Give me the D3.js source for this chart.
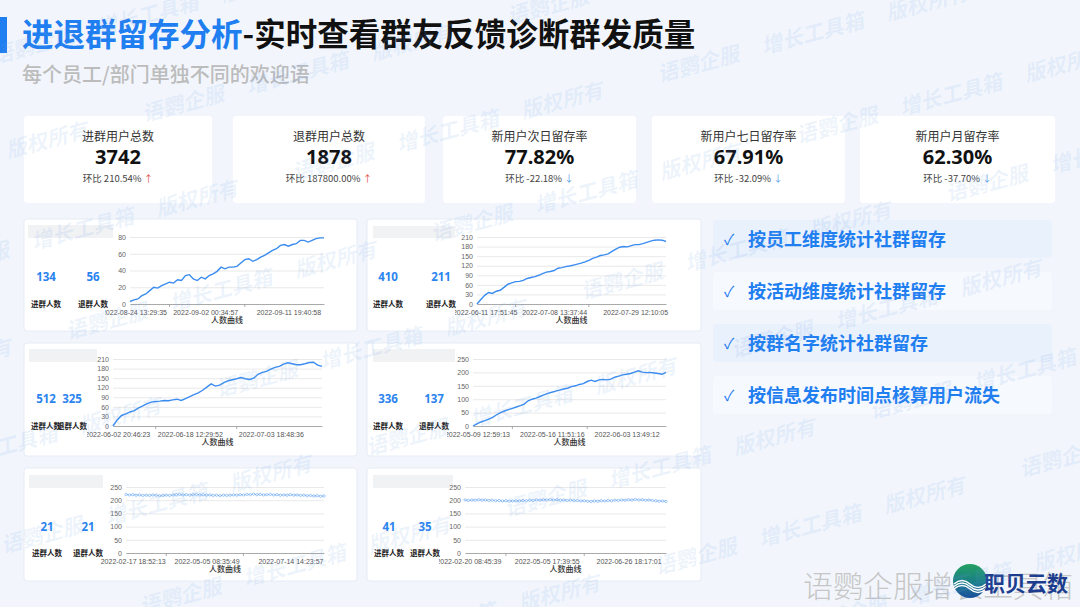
<!DOCTYPE html>
<html><head><meta charset="utf-8">
<script src="https://cdn.jsdelivr.net/npm/d3@7"></script>
<style>
html,body{margin:0;padding:0;background:#f2f6fc;}
svg{display:block;font-family:"Noto Sans CJK SC","Noto Sans",sans-serif;}
</style></head>
<body><svg id="c" width="1080" height="607"></svg>
<script>
// ---------------- DATA ----------------
const titleBlue = "进退群留存分析";
const titleBlack = "-实时查看群友反馈诊断群发质量";
const subtitle = "每个员工/部门单独不同的欢迎语";

const kpiLabels = ["进群用户总数","退群用户总数","新用户次日留存率","新用户七日留存率","新用户月留存率"];
const kpiValues = ["3742","1878","77.82%","67.91%","62.30%"];
const kpiChange = ["210.54%","187800.00%","-22.18%","-32.09%","-37.70%"];
const kpiUp = [true,true,false,false,false];

const features = ["按员工维度统计社群留存","按活动维度统计社群留存","按群名字统计社群留存","按信息发布时间点核算用户流失"];

const joinCounts = [134,410,512,336,21,41];
const leaveCounts = [56,211,325,137,21,35];
const joinLabel = "进群人数";
const leaveLabel = "退群人数";
const axisTitle = "人数曲线";

const series1 = [3,5,6,10,12,16,20,19,22,24,26,25,29,28,34,35,30,28,32,30,34,36,39,44,42,44,44,45,49,53,54,51,53,56,58,61,64,66,70,71,69,71,72,76,76,74,76,78,79,79];
const series2 = [0,14,27,36,33,40,43,52,62,66,70,71,74,80,83,86,90,95,100,102,105,112,114,117,119,122,125,128,132,137,143,147,152,154,157,165,172,178,180,179,183,186,186,189,193,197,200,201,200,196];
const series3 = [0,19,33,38,44,48,57,63,70,75,77,78,80,79,82,84,80,86,92,98,104,112,122,132,125,128,136,142,145,148,152,148,146,150,162,168,171,178,184,187,194,198,195,192,192,195,199,200,191,187];
const series4 = [0,8,15,20,26,32,42,50,56,61,66,71,76,82,94,100,104,110,116,122,126,130,134,138,141,147,150,155,158,166,171,166,172,174,172,175,182,186,191,193,196,201,206,201,199,200,198,196,193,200];
const series5 = [222,220,221,219,220,218,219,218,220,219,217,218,219,218,220,221,222,220,221,219,221,222,220,221,219,220,218,219,217,219,218,219,220,219,221,220,222,221,223,221,222,220,221,222,220,221,219,220,219,221,219,220,218,219,217,218,216,217,215,216];
const series6 = [201,199,201,200,202,200,201,199,200,198,199,197,198,196,197,198,197,199,198,200,199,201,200,202,201,203,201,202,200,201,199,200,198,199,197,198,196,195,197,196,198,197,199,198,200,199,201,200,202,201,203,201,202,200,201,199,198,196,197,195];

const yTicks1 = [0,20,40,60,80];
const yTicks2 = [0,30,60,90,120,150,180,210];
const yTicks3 = [0,30,60,90,120,150,180,210];
const yTicks4 = [0,50,100,150,200,250];
const yTicks5 = [0,50,100,150,200,250];
const yTicks6 = [0,50,100,150,200,250];

const xLabels1 = ["2022-08-24 13:29:35","2022-09-02 00:34:57","2022-09-11 19:40:58"];
const xLabels2 = ["2022-06-11 17:51:45","2022-07-08 13:37:44","2022-07-29 12:10:05"];
const xLabels3 = ["2022-06-02 20:46:23","2022-06-18 12:29:52","2022-07-03 18:48:36"];
const xLabels4 = ["2022-05-09 12:59:13","2022-05-16 11:51:16","2022-06-03 13:49:12"];
const xLabels5 = ["2022-02-17 18:52:13","2022-05-05 08:35:49","2022-07-14 14:23:57"];
const xLabels6 = ["2022-02-20 08:45:39","2022-05-05 17:39:55","2022-06-26 18:17:01"];
// sample index each date label belongs to
const xLabelIdx1 = [1,19,40];
const xLabelIdx2 = [2,20,41];
const xLabelIdx3 = [1,18,37];
const xLabelIdx4 = [1,20,39];
const xLabelIdx5 = [2,24,49];
const xLabelIdx6 = [1,24,48];

// ---------------- LAYOUT ----------------
const svg = d3.select("#c");
const BLUE = "#1f7ef0";
const defs = svg.append("defs");

svg.append("rect").attr("width",1080).attr("height",607).attr("fill","#f2f6fc");

// title
svg.append("rect").attr("x",0).attr("y",17).attr("width",7).attr("height",36).attr("fill",BLUE);
const t = svg.append("text").attr("x",22).attr("y",46).attr("font-size",31.5).attr("font-weight",700);
t.append("tspan").attr("fill",BLUE).text(titleBlue);
t.append("tspan").attr("fill","#111").text(titleBlack);
svg.append("text").attr("x",22).attr("y",82).attr("font-size",20).attr("font-weight",500)
  .attr("fill","#bcbcbc").text(subtitle);

// KPI cards
const cardX = [24,233,443,652,860], cardW = [188,192,193,193,195];
kpiLabels.forEach((lab,i)=>{
  const g = svg.append("g");
  g.append("rect").attr("x",cardX[i]).attr("y",116).attr("width",cardW[i]).attr("height",87)
    .attr("rx",4).attr("fill","#fff");
  const cx = cardX[i]+cardW[i]/2;
  g.append("text").attr("x",cx).attr("y",141).attr("text-anchor","middle").attr("font-size",12)
    .attr("fill","#333").text(lab);
  g.append("text").attr("x",cx).attr("y",164).attr("text-anchor","middle").attr("font-size",20)
    .attr("font-weight",700).attr("fill","#111").attr("font-family","'Noto Sans','Noto Sans CJK SC',sans-serif").text(kpiValues[i]);
  const ct = g.append("text").attr("x",cx).attr("y",182).attr("text-anchor","middle").attr("font-size",9.5).attr("fill","#444");
  ct.append("tspan").text("环比 "+kpiChange[i]+" ");
  ct.append("tspan").attr("fill",kpiUp[i]?"#e5534b":"#5b9ee9").text(kpiUp[i]?"↑":"↓");
});

// feature list
const featY = [220,272,324,376];
features.forEach((f,i)=>{
  svg.append("rect").attr("x",713).attr("y",featY[i]).attr("width",339).attr("height",38).attr("rx",4)
    .attr("fill", i%2===0 ? "#e9f1fc" : "#f6f9fe");
  svg.append("text").attr("x",729).attr("y",featY[i]+25).attr("text-anchor","middle").attr("font-size",15)
    .attr("fill",BLUE).text("✓");
  svg.append("text").attr("x",748).attr("y",featY[i]+26).attr("font-size",18).attr("font-weight",700)
    .attr("fill",BLUE).text(f);
});

// chart panels
const allSeries = [series1,series2,series3,series4,series5,series6];
const allYTicks = [yTicks1,yTicks2,yTicks3,yTicks4,yTicks5,yTicks6];
const allXLabels = [xLabels1,xLabels2,xLabels3,xLabels4,xLabels5,xLabels6];
const allXIdx = [xLabelIdx1,xLabelIdx2,xLabelIdx3,xLabelIdx4,xLabelIdx5,xLabelIdx6];
const panels = [
  {x:24,y:219,w:333,h:112,pl:130,pr:324,pt:237,pb:304,clip:105,num:[46,93],numY:277,labY:304,ph:[28,225,85,13],markers:false},
  {x:367,y:219,w:334,h:112,pl:477,pr:666,pt:237,pb:304,clip:455,num:[388,441],numY:277,labY:304,ph:[373,226,82,12],markers:false},
  {x:24,y:343,w:333,h:113,pl:113,pr:322,pt:359,pb:426,clip:87,num:[46,72],numY:399,labY:426,ph:[29,349,68,13],markers:false},
  {x:367,y:343,w:334,h:113,pl:473,pr:666,pt:359,pb:426,clip:447,num:[388,434],numY:399,labY:426,ph:[373,349,82,13],markers:false},
  {x:24,y:468,w:333,h:113,pl:126,pr:324,pt:487,pb:553,clip:90,num:[47,88],numY:527,labY:553,ph:[29,475,74,13],markers:true},
  {x:367,y:468,w:334,h:113,pl:465,pr:666,pt:487,pb:553,clip:439,num:[389,425],numY:527,labY:553,ph:[373,475,80,13],markers:true}
];
panels.forEach((p,i)=>{
  const g = svg.append("g");
  g.append("rect").attr("x",p.x).attr("y",p.y).attr("width",p.w).attr("height",p.h).attr("rx",3)
    .attr("fill","#fff").attr("stroke","#e6ecf5").attr("stroke-width",1);
  g.append("rect").attr("x",p.ph[0]).attr("y",p.ph[1]).attr("width",p.ph[2]).attr("height",p.ph[3]).attr("fill","#f1f2f4");
  // counts
  [joinCounts[i],leaveCounts[i]].forEach((v,k)=>{
    g.append("text").attr("x",p.num[k]).attr("y",p.numY+4).attr("text-anchor","middle").attr("font-size",11.5)
      .attr("font-weight",700).attr("fill","#2b84ef").attr("font-family","'Noto Sans',sans-serif").text(v);
    g.append("text").attr("x",p.num[k]).attr("y",p.labY+3).attr("text-anchor","middle").attr("font-size",7.5)
      .attr("font-weight",700).attr("fill","#222").text(k===0?joinLabel:leaveLabel);
  });
  const data = allSeries[i], yt = allYTicks[i];
  const x = d3.scaleLinear().domain([0,data.length-1]).range([p.pl,p.pr]);
  const y = d3.scaleLinear().domain([0,yt[yt.length-1]]).range([p.pb,p.pt]);
  // grid + y labels
  const ya = g.append("g").attr("transform",`translate(${p.pl},0)`)
    .call(d3.axisLeft(y).tickValues(yt).tickSize(-(p.pr-p.pl)).tickPadding(4));
  ya.select(".domain").remove();
  ya.selectAll("line").attr("stroke","#e3e3e3").attr("stroke-width",0.8);
  ya.selectAll("text").attr("font-size",7).attr("fill","#666").attr("font-family","'Liberation Sans',sans-serif");
  // x axis (clipped wrapper in page coordinates)
  const cid = "clip"+i;
  defs.append("clipPath").attr("id",cid).append("rect")
    .attr("x",p.clip).attr("y",p.pb-3).attr("width",p.pr-p.clip+40).attr("height",20);
  const xl = allXLabels[i], xi = allXIdx[i];
  const wrap = g.append("g").attr("clip-path",`url(#${cid})`);
  const xa = wrap.append("g").attr("transform",`translate(0,${p.pb})`)
    .call(d3.axisBottom(x).tickValues(xi).tickFormat((d,k)=>xl[k]).tickSize(0).tickPadding(6));
  xa.select(".domain").attr("stroke","#999").attr("stroke-width",0.8);
  xa.selectAll("text").attr("font-size",7).attr("fill","#555").attr("font-family","'Liberation Sans',sans-serif");
  // minor tick marks
  const n = data.length-1;
  [Math.round(n*0.2),Math.round(n*0.6)].forEach(ti=>{
    g.append("line").attr("x1",x(ti)).attr("x2",x(ti)).attr("y1",p.pb).attr("y2",p.pb+3).attr("stroke","#999").attr("stroke-width",0.8);
  });
  g.append("text").attr("x",(p.pl+p.pr)/2).attr("y",p.pb+19).attr("text-anchor","middle").attr("font-size",8)
    .attr("font-weight",500).attr("fill","#333").text(axisTitle);
  const line = d3.line().x((d,k)=>x(k)).y(d=>y(d));
  g.append("path").datum(data).attr("d",line).attr("fill","none")
    .attr("stroke",p.markers?"#6aa8f2":"#3a8cf0").attr("stroke-width",p.markers?1:1.4);
  if(p.markers){
    g.selectAll("circle.m").data(data).enter().append("circle").attr("cx",(d,k)=>x(k)).attr("cy",d=>y(d))
      .attr("r",1.2).attr("fill","#fff").attr("stroke","#6aa8f2").attr("stroke-width",0.6);
  }
});

// bottom-right logo
svg.append("text").attr("x",803).attr("y",597).attr("font-size",30).attr("font-weight",300)
  .attr("fill","#c6c6c6").text("语鹦企服增长工具箱");
const grad = defs.append("linearGradient").attr("id","lg").attr("x1",0).attr("y1",0).attr("x2",0).attr("y2",1);
grad.append("stop").attr("offset","0%").attr("stop-color","#23a062");
grad.append("stop").attr("offset","55%").attr("stop-color","#1b7d8a");
grad.append("stop").attr("offset","100%").attr("stop-color","#1c4f9e");
svg.append("circle").attr("cx",970).attr("cy",581).attr("r",17).attr("fill","url(#lg)");
[0,5,10].forEach(d=>{
  svg.append("path").attr("d",`M954,${584+d/2} q8,-7 16,0 t16,0`).attr("fill","none").attr("stroke","#fff").attr("stroke-width",1.6);
});
svg.append("text").attr("x",984).attr("y",591).attr("font-size",21).attr("font-weight",700)
  .attr("fill","#1c3d8e").text("职贝云数");

// watermark
const wm = svg.append("g").attr("transform","rotate(-15)").attr("pointer-events","none");
const wmText = "语鹦企服     增长工具箱     版权所有            ";
for(let r=-2;r<12;r++){
  wm.append("text").attr("x",-400 + (r%3)*130).attr("y",r*95+60)
    .attr("font-size",21).attr("font-weight",700).attr("font-style","italic")
    .attr("fill","#6f9fe6").attr("fill-opacity",0.12)
    .attr("xml:space","preserve").style("white-space","pre")
    .text(wmText.repeat(5));
}
</script></body></html>
